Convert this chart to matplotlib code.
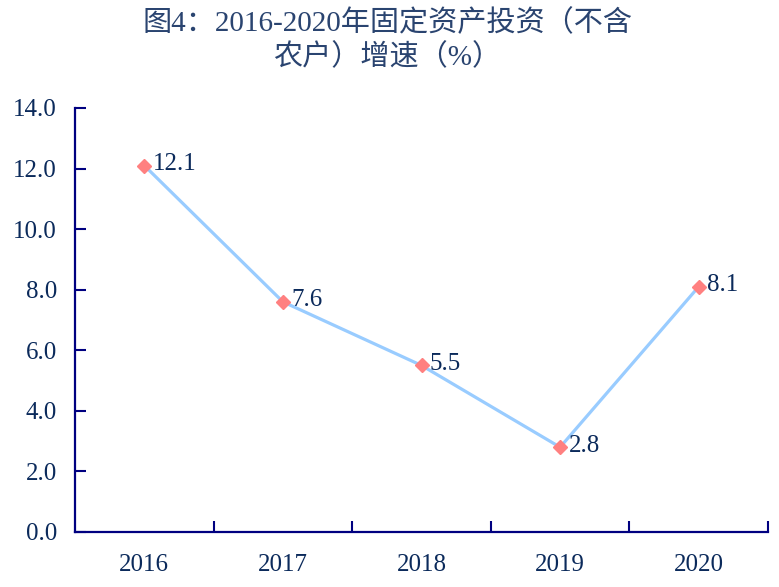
import matplotlib
matplotlib.use("Agg")
from matplotlib import pyplot as plt
from matplotlib.ticker import FixedLocator, MultipleLocator, FormatStrFormatter

YEARS = ["2016", "2017", "2018", "2019", "2020"]
GROWTH = [12.1, 7.6, 5.5, 2.8, 8.1]
TITLE = "图4：2016-2020年固定资产投资（不含\n农户）增速（%）"

AXIS_COLOR = "#000080"
TEXT_COLOR = "#0B2A5B"
LINE_COLOR = "#99CCFF"
MARKER_COLOR = "#FF8080"
FONT = ["Liberation Serif", "Noto Sans CJK SC", "DejaVu Sans"]

plt.rcParams["font.family"] = FONT


def main():
    fig = plt.figure(figsize=(7.79, 5.87), dpi=100)
    ax = fig.add_axes([75 / 779, (587 - 532) / 587, (768 - 75) / 779, (532 - 108) / 587])

    x = list(range(len(YEARS)))
    ax.plot(x, GROWTH, color=LINE_COLOR, lw=2.3, marker="D", ms=7.5,
            mfc=MARKER_COLOR, mec=MARKER_COLOR, zorder=3)
    for xi, v in zip(x, GROWTH):
        ax.annotate(f"{v:.1f}", (xi, v), xytext=(6, 1), textcoords="offset points",
                    ha="left", va="center", fontsize=18, color=TEXT_COLOR)

    ax.set_xlim(-0.5, len(YEARS) - 0.5)
    ax.set_ylim(0, 14)
    ax.yaxis.set_major_locator(MultipleLocator(2))
    ax.yaxis.set_major_formatter(FormatStrFormatter("%.1f"))

    ax.xaxis.set_major_locator(FixedLocator([i + 0.5 for i in x]))
    ax.xaxis.set_major_formatter(plt.NullFormatter())
    ax.xaxis.set_minor_locator(FixedLocator(x))
    ax.set_xticklabels(YEARS, minor=True)
    ax.tick_params(axis="x", which="major", direction="in", length=8, width=1.5, color=AXIS_COLOR)
    ax.tick_params(axis="x", which="minor", length=0, pad=16, labelsize=18, labelcolor=TEXT_COLOR)
    ax.tick_params(axis="y", direction="in", length=8, width=1.5, color=AXIS_COLOR,
                   pad=13, labelsize=18, labelcolor=TEXT_COLOR)

    for side in ("top", "right"):
        ax.spines[side].set_visible(False)
    for side in ("left", "bottom"):
        ax.spines[side].set_color(AXIS_COLOR)
        ax.spines[side].set_linewidth(1.6)

    fig.text(0.497, 0.985, TITLE, ha="center", va="top", fontsize=21,
             color="#2A4470", linespacing=1.3)

    fig.savefig("out.png", dpi=100)


if __name__ == '__main__': main()
